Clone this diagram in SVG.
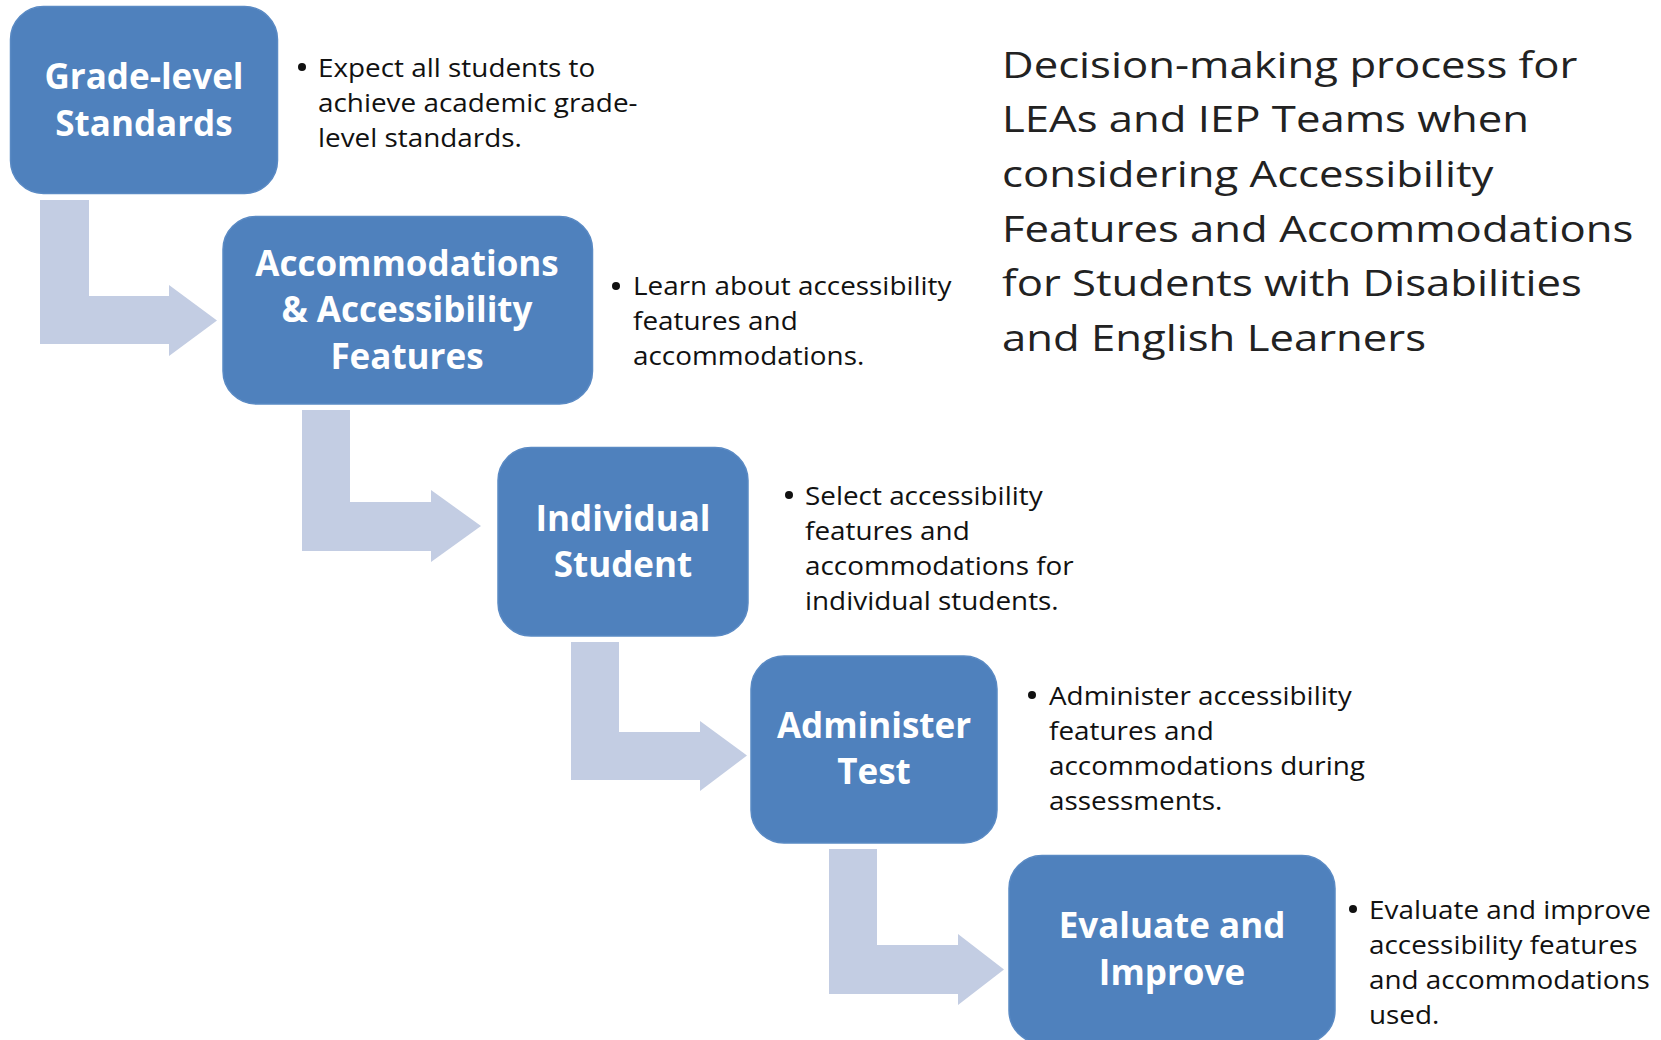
<svg xmlns="http://www.w3.org/2000/svg" width="1661" height="1040" viewBox="0 0 1661 1040">
  <style>
    .box { fill: #4f81bd; stroke: #5a8ac4; stroke-width: 1.5; }
    .flow { fill: #c3cde3; }
    .label { font-family: "Open Sans", "Liberation Sans", sans-serif; font-weight: 700; font-size: 35px; fill: #ffffff; text-anchor: middle; }
    .note { font-family: "Open Sans", "Liberation Sans", sans-serif; font-size: 25px; fill: #111111; }
    .title { font-family: "Open Sans", "Liberation Sans", sans-serif; font-size: 37px; fill: #222222; }
    .dot { fill: #111111; }
  </style>
  <rect width="1661" height="1040" fill="#ffffff"/>

  <!-- bent arrows leading from each step to the next -->
  <g id="connectors">
    <path class="flow" d="M40,200 H89 V296 H169 V285 L217,320.5 L169,356 V344 H40 Z"/>
    <path class="flow" d="M302,410 H350 V502 H431 V490 L481,526 L431,562 V551 H302 Z"/>
    <path class="flow" d="M571,642 H619 V732 H700 V721 L747,755.5 L700,791 V780 H571 Z"/>
    <path class="flow" d="M829,849 H877 V945 H958 V934 L1004,969.5 L958,1005 V994 H829 Z"/>
  </g>

  <g id="step-grade-level">
    <rect class="box" x="10.5" y="6.5" width="267" height="187" rx="33" ry="33"/>
    <text class="label" x="144" y="89">Grade-level</text>
    <text class="label" x="144" y="136">Standards</text>
    <circle class="dot" cx="302" cy="67" r="4"/>
    <g transform="translate(318,0) scale(1.115,1)">
      <text class="note" x="0" y="77">Expect all students to</text>
      <text class="note" x="0" y="112">achieve academic grade-</text>
      <text class="note" x="0" y="147">level standards.</text>
    </g>
  </g>

  <g id="step-accommodations">
    <rect class="box" x="223" y="216.5" width="369.5" height="187.5" rx="33" ry="33"/>
    <text class="label" x="407" y="276">Accommodations</text>
    <text class="label" x="407" y="322">&amp; Accessibility</text>
    <text class="label" x="407" y="369">Features</text>
    <circle class="dot" cx="616" cy="286" r="4"/>
    <g transform="translate(633,0) scale(1.115,1)">
      <text class="note" x="0" y="295">Learn about accessibility</text>
      <text class="note" x="0" y="330">features and</text>
      <text class="note" x="0" y="365">accommodations.</text>
    </g>
  </g>

  <g id="step-individual">
    <rect class="box" x="498" y="447.5" width="250" height="188.5" rx="33" ry="33"/>
    <text class="label" x="623" y="531">Individual</text>
    <text class="label" x="623" y="577">Student</text>
    <circle class="dot" cx="789" cy="495" r="4"/>
    <g transform="translate(805,0) scale(1.115,1)">
      <text class="note" x="0" y="505">Select accessibility</text>
      <text class="note" x="0" y="540">features and</text>
      <text class="note" x="0" y="575">accommodations for</text>
      <text class="note" x="0" y="610">individual students.</text>
    </g>
  </g>

  <g id="step-administer">
    <rect class="box" x="751" y="656" width="246" height="187" rx="33" ry="33"/>
    <text class="label" x="874" y="738">Administer</text>
    <text class="label" x="874" y="784">Test</text>
    <circle class="dot" cx="1032" cy="695" r="4"/>
    <g transform="translate(1049,0) scale(1.115,1)">
      <text class="note" x="0" y="705">Administer accessibility</text>
      <text class="note" x="0" y="740">features and</text>
      <text class="note" x="0" y="775">accommodations during</text>
      <text class="note" x="0" y="810">assessments.</text>
    </g>
  </g>

  <g id="step-evaluate">
    <rect class="box" x="1009" y="855.5" width="326" height="188" rx="33" ry="33"/>
    <text class="label" x="1172" y="938">Evaluate and</text>
    <text class="label" x="1172" y="985">Improve</text>
    <circle class="dot" cx="1353" cy="909" r="4"/>
    <g transform="translate(1369,0) scale(1.115,1)">
      <text class="note" x="0" y="919">Evaluate and improve</text>
      <text class="note" x="0" y="954">accessibility features</text>
      <text class="note" x="0" y="989">and accommodations</text>
      <text class="note" x="0" y="1024">used.</text>
    </g>
  </g>

  <g id="title" transform="translate(1002,0) scale(1.18,1)">
    <text class="title" x="0" y="78">Decision-making process for</text>
    <text class="title" x="0" y="132">LEAs and IEP Teams when</text>
    <text class="title" x="0" y="187">considering Accessibility</text>
    <text class="title" x="0" y="242">Features and Accommodations</text>
    <text class="title" x="0" y="296">for Students with Disabilities</text>
    <text class="title" x="0" y="351">and English Learners</text>
  </g>
</svg>
